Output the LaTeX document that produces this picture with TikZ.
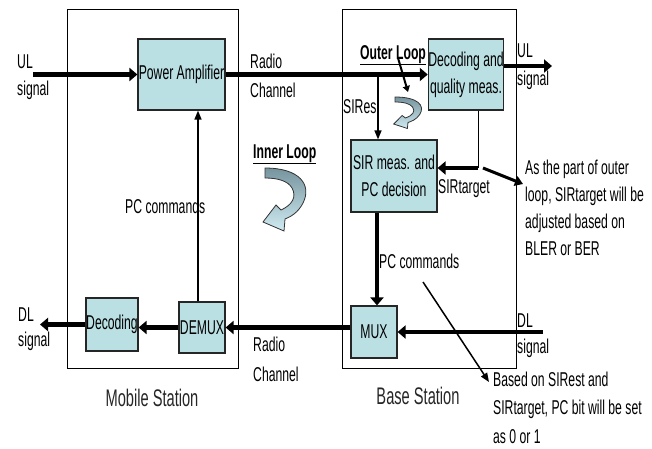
\documentclass[tikz,border=0pt]{standalone}
\usepackage{fontspec}
\setmainfont{Liberation Sans}[FakeStretch=0.61]
\usetikzlibrary{arrows.meta}
\definecolor{boxfill}{RGB}{186,224,227}
\definecolor{loopA}{RGB}{118,148,158}
\definecolor{loopB}{RGB}{208,235,242}
\newcommand{\txtfont}{\fontsize{20}{27}\selectfont}
\newcommand{\bigtxtfont}{\fontsize{24}{27}\selectfont}
\begin{document}
\begin{tikzpicture}[x=1pt,y=-1pt,
  blk/.style={draw=black!85, line width=1.2pt, fill=boxfill, inner sep=0pt, align=center, font=\txtfont},
  station/.style={draw=black, line width=1pt, inner sep=0pt},
  lbl/.style={inner sep=0pt, anchor=base west, font=\txtfont},
  biglbl/.style={inner sep=0pt, anchor=base, font=\bigtxtfont, text=black!85},
  bigarrow/.style={line width=4.5pt, -{Triangle[length=8pt,width=13pt]}},
  smarrow/.style={line width=1.5pt, -{Triangle[length=9pt,width=7pt]}},
  looparrow/.pic={
    \draw[draw=black!80, line width=0.8pt, top color=loopA, bottom color=loopB]
      (0,0) .. controls (35,0) and (47,17) .. (38,35)
      .. controls (33,45) and (25,49) .. (20,51) -- (19,63) -- (-2,54) -- (11,37) -- (16,42)
      .. controls (27,37) and (32,29) .. (27,20)
      .. controls (23,13) and (13,10) .. (0,10) -- cycle;
  }]
\useasboundingbox (0,0) rectangle (652,448);
% stations
\node[station, minimum width=171, minimum height=359] (ms) at (152.5,188.5) {};
\node[station, minimum width=174, minimum height=359] (bs) at (429,188.5) {};
% blocks
\node[blk, minimum width=87, minimum height=71] (pa) at (181.5,74.5) {Power Amplifier};
\node[blk, minimum width=74, minimum height=71] (dq) at (466,74.5) {Decoding and\\quality meas.};
\node[blk, minimum width=86, minimum height=72] (sir) at (394,176) {SIR meas. and\\PC decision};
\node[blk, minimum width=46, minimum height=51] (demux) at (202,327.5) {DEMUX};
\node[blk, minimum width=52, minimum height=53] (dec) at (112,324.5) {Decoding};
\node[blk, minimum width=46, minimum height=52] (mux) at (374,332) {MUX};
% connectors
\coordinate (ulin) at (33,74.5);
\draw[bigarrow] (ulin) -- (pa.west);
\draw[bigarrow] (pa.east) -- (dq.west);
\coordinate (ulout) at (552,66);
\draw[bigarrow] (ulout -| dq.east) -- (ulout);
\coordinate (sires) at (378,74.5);
\draw[smarrow] (sires) -- (sires |- sir.north);
\coordinate (st) at (478,168);
\draw[line width=1pt] (st |- dq.south) -- (st);
\draw[bigarrow] (st) -- (st -| sir.east);
\coordinate (annS) at (483,168);
\coordinate (annE) at (523,184);
\draw[line width=3pt, -{Triangle[length=8pt,width=10pt]}] (annS) -- (annE);
\coordinate (pcd) at (377,0);
\draw[bigarrow] (pcd |- sir.south) -- (pcd |- mux.north);
\coordinate (dlin) at (543,332);
\draw[bigarrow] (dlin) -- (mux.east);
\draw[bigarrow] (mux.west |- demux.east) -- (demux.east);
\draw[bigarrow] (demux.west) -- (demux.west -| dec.east);
\coordinate (dlout) at (40,324.5);
\draw[bigarrow] (dec.west) -- (dlout);
\coordinate (pcleft) at (198,0);
\draw[smarrow] (pcleft |- demux.north) -- (pcleft |- pa.south);
\coordinate (pcr0) at (423,282);
\coordinate (pcr1) at (489,382);
\draw[smarrow] (pcr0) -- (pcr1);
\coordinate (ol0) at (398,58);
\coordinate (ol1) at (408,92);
\draw[line width=2pt, -{Triangle[length=6pt,width=7pt]}] (ol0) -- (ol1);
% loop arrows
\pic at (265,168) {looparrow};
\pic[xscale=0.65, yscale=0.5] at (395,97) {looparrow};
% labels
\node[lbl] (ul1) at (17,68) {UL};
\node[lbl] (ul2) at (17,95) {signal};
\node[lbl] (rc1) at (250,68) {Radio};
\node[lbl] (rc2) at (250,97) {Channel};
\node[lbl] (ur1) at (517,57) {UL};
\node[lbl] (ur2) at (517,85) {signal};
\node[lbl] (olt) at (360,59) {\bfseries\underline{Outer Loop}};
\node[lbl] (sr) at (343,113) {SIRes};
\node[lbl] (ilt) at (253,158) {\bfseries\underline{Inner Loop}};
\node[lbl] (pclt) at (125,213) {PC commands};
\node[lbl] (stt) at (438,193) {SIRtarget};
\node[lbl] (a1) at (525,174) {As the part of outer};
\node[lbl] (a2) at (525,201) {loop, SIRtarget will be};
\node[lbl] (a3) at (525,228) {adjusted based on};
\node[lbl] (a4) at (525,255) {BLER or BER};
\node[lbl] (pcrt) at (379,268) {PC commands};
\node[lbl] (b1) at (493,386) {Based on SIRest and};
\node[lbl] (b2) at (493,414) {SIRtarget, PC bit will be set};
\node[lbl] (b3) at (493,443) {as 0 or 1};
\node[lbl] (dl1) at (18,321) {DL};
\node[lbl] (dl2) at (18,346) {signal};
\node[lbl] (rb1) at (253,351) {Radio};
\node[lbl] (rb2) at (253,381) {Channel};
\node[lbl] (dr1) at (517,327) {DL};
\node[lbl] (dr2) at (517,353) {signal};
\node[biglbl] (mst) at (152,406) {Mobile Station};
\node[biglbl] (bst) at (418,404) {Base Station};
\end{tikzpicture}
\end{document}
